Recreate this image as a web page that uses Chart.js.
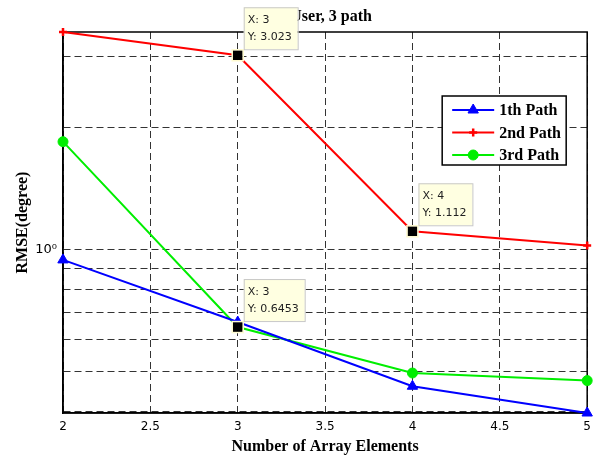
<!DOCTYPE html>
<html>
<head>
<meta charset="utf-8">
<script src="https://cdn.jsdelivr.net/npm/chart.js@4/dist/chart.umd.min.js"></script>
<style>
  body { margin: 0; background: #fff; }
</style>
</head>
<body>
<canvas id="myChart" width="598" height="462"></canvas>
<script>
// values
const elements = [2, 3, 4, 5];
const path1 = [0.945, 0.664, 0.461, 0.396];
const path2 = [3.45, 3.023, 1.112, 1.025];
const path3 = [1.85, 0.6453, 0.497, 0.476];
const seriesNames = ["1th Path", "2nd Path", "3rd Path"];
const xTicks = [2, 2.5, 3, 3.5, 4, 4.5, 5];
const yTicks = [0.4, 0.5, 0.6, 0.7, 0.8, 0.9, 1, 2, 3];
const tipX = [3, 4, 3];
const tipY = [3.023, 1.112, 0.6453];
const titleText = "1 User, 3 path";

const serif = "'Liberation Serif', 'Times New Roman', serif";
const sans = "'DejaVu Sans', sans-serif";

function toPoints(ys) {
    return elements.map((x, i) => ({ x: x, y: ys[i] }));
}

const decor = {
    id: "decor",
    beforeDatasetsDraw(chart) {
        const { ctx, chartArea: a } = chart;
        ctx.save();
        ctx.strokeStyle = "#000";
        ctx.lineWidth = 1.5;
        ctx.strokeRect(a.left, a.top, a.right - a.left, a.bottom - a.top);
        ctx.restore();
    },
    afterDraw(chart) {
        const { ctx, chartArea: a, scales } = chart;
        ctx.save();

        // title
        ctx.fillStyle = "#000";
        ctx.font = "bold 16px " + serif;
        ctx.textAlign = "center";
        ctx.textBaseline = "middle";
        ctx.fillText(titleText, (a.left + a.right) / 2, 17);

        // legend
        let lx = a.right - 145, ly = a.top + 64, lw = 124, lh = 69;
        ctx.fillStyle = "#fff";
        ctx.fillRect(lx, ly, lw, lh);
        ctx.strokeStyle = "#000";
        ctx.lineWidth = 1.5;
        ctx.strokeRect(lx, ly, lw, lh);
        chart.data.datasets.forEach((ds, i) => {
            let yy = ly + 14 + i * 22.5;
            ctx.strokeStyle = ds.borderColor;
            ctx.fillStyle = ds.backgroundColor;
            ctx.lineWidth = 2;
            ctx.beginPath();
            ctx.moveTo(lx + 10, yy);
            ctx.lineTo(lx + 52, yy);
            ctx.stroke();
            ctx.lineWidth = ds.pointBorderWidth;
            Chart.helpers.drawPoint(ctx, {
                pointStyle: ds.pointStyle,
                radius: ds.pointRadius,
                borderWidth: ds.pointBorderWidth,
                rotation: 0
            }, lx + 31, yy);
            ctx.fillStyle = "#000";
            ctx.font = "bold 16px " + serif;
            ctx.textAlign = "left";
            ctx.textBaseline = "middle";
            ctx.fillText(ds.label, lx + 57, yy + 1);
        });

        // data tips
        tipX.forEach((tx, i) => {
            let px = scales.x.getPixelForValue(tx);
            let py = scales.y.getPixelForValue(tipY[i]);
            ctx.fillStyle = "#000";
            ctx.strokeStyle = "#fffbd0";
            ctx.lineWidth = 1.5;
            ctx.fillRect(px - 5, py - 5, 10, 10);
            ctx.strokeRect(px - 5.5, py - 5.5, 11, 11);

            let l1 = "X: " + tx;
            let l2 = "Y: " + tipY[i];
            ctx.font = "11px " + sans;
            let w = Math.max(ctx.measureText(l1).width, ctx.measureText(l2).width) + 10;
            let bx = px + 6, by = py - 48;
            ctx.fillStyle = "#ffffe1";
            ctx.fillRect(bx, by, w, 42);
            ctx.strokeStyle = "#c8c8c8";
            ctx.lineWidth = 1;
            ctx.strokeRect(bx + 0.5, by + 0.5, w, 42);
            ctx.fillStyle = "#222";
            ctx.textAlign = "left";
            ctx.textBaseline = "middle";
            ctx.fillText(l1, bx + 4, by + 13);
            ctx.fillText(l2, bx + 4, by + 30);
        });
        ctx.restore();
    }
};

const ctx = document.getElementById("myChart");
new Chart(ctx, {
    type: "line",
    data: {
        datasets: [
            {
                label: seriesNames[0],
                data: toPoints(path1),
                borderColor: "#0000ff",
                backgroundColor: "#0000ff",
                pointStyle: "triangle",
                pointRadius: 6,
                pointBorderWidth: 1,
                borderWidth: 2,
            },
            {
                label: seriesNames[1],
                data: toPoints(path2),
                borderColor: "#ff0000",
                backgroundColor: "#ff0000",
                pointStyle: "cross",
                pointRadius: 4,
                pointBorderWidth: 2.5,
                borderWidth: 2,
            },
            {
                label: seriesNames[2],
                data: toPoints(path3),
                borderColor: "#00ee00",
                backgroundColor: "#00ee00",
                pointStyle: "circle",
                pointRadius: 5,
                pointBorderWidth: 1,
                borderWidth: 2,
            },
        ].map((d) => Object.assign(d, { clip: false, tension: 0, pointHoverRadius: d.pointRadius })),
    },
    plugins: [decor],
    options: {
        responsive: false,
        devicePixelRatio: 1,
        animation: { duration: 0 },
        layout: { padding: { left: 0, right: 10, top: 32, bottom: 0 } },
        plugins: { legend: { display: false }, tooltip: { enabled: false }, title: { display: false } },
        scales: {
            x: {
                type: "linear",
                min: 2,
                max: 5,
                afterBuildTicks: (axis) => { axis.ticks = xTicks.map((v) => ({ value: v })); },
                afterFit: (axis) => { axis.height = 49; },
                ticks: {
                    color: "#000",
                    font: { family: sans, size: 12 },
                    padding: 7,
                    maxRotation: 0,
                    callback: (v) => v + "",
                },
                grid: { color: "#333", lineWidth: 1, drawTicks: false },
                border: { color: "#000", width: 1.5, dash: [7, 4] },
                title: {
                    display: true,
                    text: "Number of Array Elements",
                    color: "#000",
                    font: { family: serif, size: 16, weight: "bold" },
                    padding: { top: 0, bottom: 6 },
                },
            },
            y: {
                type: "logarithmic",
                min: 0.396,
                max: 3.45,
                afterBuildTicks: (axis) => { axis.ticks = yTicks.map((v) => ({ value: v })); },
                afterFit: (axis) => { axis.width = 63; },
                ticks: {
                    color: "#000",
                    font: { family: sans, size: 13 },
                    padding: 6,
                    autoSkip: false,
                    callback: (v) => (v === 1 ? "10\u2070" : ""),
                },
                grid: { color: "#333", lineWidth: 1, drawTicks: false },
                border: { color: "#000", width: 1.5, dash: [7, 4] },
                title: {
                    display: true,
                    text: "RMSE(degree)",
                    color: "#000",
                    font: { family: serif, size: 16, weight: "bold" },
                    padding: { top: 13, bottom: 0 },
                },
            },
        },
    },
});
</script>
</body>
</html>
